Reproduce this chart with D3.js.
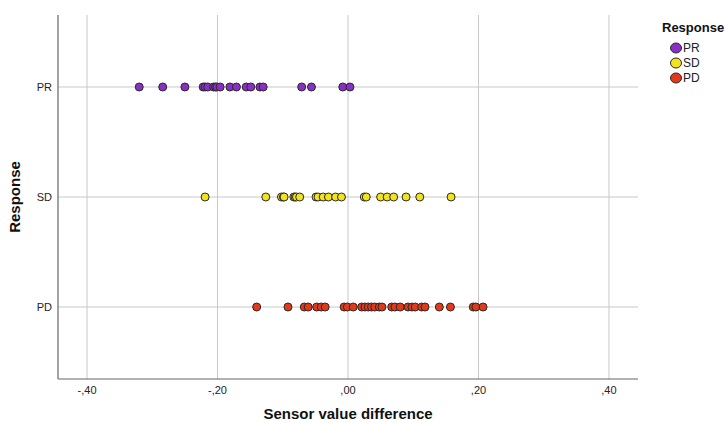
<!DOCTYPE html>
<html>
<head>
<meta charset="utf-8">
<script src="https://cdn.jsdelivr.net/npm/d3@7"></script>
<style>
  body { margin: 0; background: #fff; }
  text { font-family: Arial, 'Liberation Sans', sans-serif; }
</style>
</head>
<body>
<div id="chart"></div>
<script>
const categories = ['PR', 'SD', 'PD']
const colors = { PR: '#8a2fc6', SD: '#f3e31b', PD: '#e2391a' }
const xTicks = [-0.4, -0.2, 0, 0.2, 0.4]
const xTickLabels = ['-,40', '-,20', ',00', ',20', ',40']

const prValues = [-0.320, -0.284, -0.250, -0.222, -0.219, -0.215, -0.206, -0.203, -0.201, -0.196,
  -0.181, -0.171, -0.156, -0.149, -0.135, -0.130, -0.071, -0.056, -0.008, 0.003]
const sdValues = [-0.219, -0.126, -0.102, -0.099, -0.098, -0.083, -0.081, -0.079, -0.074,
  -0.049, -0.046, -0.038, -0.030, -0.019, -0.010, 0.025, 0.028, 0.050, 0.060, 0.070,
  0.089, 0.110, 0.158]
const pdValues = [-0.140, -0.092, -0.067, -0.061, -0.048, -0.041, -0.035, -0.006, -0.001,
  0.008, 0.021, 0.026, 0.031, 0.036, 0.041, 0.048, 0.052, 0.067, 0.072, 0.080, 0.092,
  0.098, 0.103, 0.113, 0.118, 0.140, 0.157, 0.192, 0.196, 0.207]

const points = []
prValues.forEach(v => points.push({ cat: 'PR', v }))
sdValues.forEach(v => points.push({ cat: 'SD', v }))
pdValues.forEach(v => points.push({ cat: 'PD', v }))

const width = 727
const height = 423
const plot = { left: 58, right: 638, top: 15, bottom: 379 }

const svg = d3.select('#chart')
  .append('svg')
  .attr('width', width)
  .attr('height', height)

const x = d3.scaleLinear()
  .domain([-0.4445, 0.4445])
  .range([plot.left, plot.right])

const y = d3.scalePoint()
  .domain(categories)
  .range([plot.top, plot.bottom])
  .padding(0.6545)

// grid
svg.selectAll('.vgrid')
  .data(xTicks)
  .enter()
  .append('line')
  .attr('x1', d => x(d))
  .attr('x2', d => x(d))
  .attr('y1', plot.top)
  .attr('y2', plot.bottom)
  .attr('stroke', '#c8c8c8')
  .attr('stroke-width', 1)

svg.selectAll('.hgrid')
  .data(categories)
  .enter()
  .append('line')
  .attr('x1', plot.left)
  .attr('x2', plot.right)
  .attr('y1', d => y(d))
  .attr('y2', d => y(d))
  .attr('stroke', '#c8c8c8')
  .attr('stroke-width', 1)

// axes lines
svg.append('line')
  .attr('x1', plot.left).attr('x2', plot.left)
  .attr('y1', plot.top).attr('y2', plot.bottom)
  .attr('stroke', '#666').attr('stroke-width', 1.2)
svg.append('line')
  .attr('x1', plot.left).attr('x2', plot.right)
  .attr('y1', plot.bottom).attr('y2', plot.bottom)
  .attr('stroke', '#666').attr('stroke-width', 1.2)

// tick labels
svg.selectAll('.xlabel')
  .data(xTicks)
  .enter()
  .append('text')
  .attr('x', d => x(d))
  .attr('y', plot.bottom + 15)
  .attr('text-anchor', 'middle')
  .attr('font-size', 11)
  .attr('fill', '#222')
  .text((d, i) => xTickLabels[i])

svg.selectAll('.ylabel')
  .data(categories)
  .enter()
  .append('text')
  .attr('x', plot.left - 6)
  .attr('y', d => y(d))
  .attr('dy', '0.35em')
  .attr('text-anchor', 'end')
  .attr('font-size', 11)
  .attr('fill', '#222')
  .text(d => d)

// axis titles
svg.append('text')
  .attr('x', x(0))
  .attr('y', 419)
  .attr('text-anchor', 'middle')
  .attr('font-size', 15)
  .attr('font-weight', 'bold')
  .attr('fill', '#111')
  .text('Sensor value difference')

svg.append('text')
  .attr('transform', `translate(20, ${y('SD')}) rotate(-90)`)
  .attr('text-anchor', 'middle')
  .attr('font-size', 15)
  .attr('font-weight', 'bold')
  .attr('fill', '#111')
  .text('Response')

// points
svg.selectAll('circle.pt')
  .data(points)
  .enter()
  .append('circle')
  .attr('class', 'pt')
  .attr('cx', d => x(d.v))
  .attr('cy', d => y(d.cat))
  .attr('r', 4)
  .attr('fill', d => colors[d.cat])
  .attr('stroke', '#2a2a2a')
  .attr('stroke-width', 1)

// legend
const legend = svg.append('g').attr('transform', 'translate(662, 0)')
legend.append('text')
  .attr('x', 0)
  .attr('y', 32)
  .attr('font-size', 13)
  .attr('font-weight', 'bold')
  .attr('fill', '#111')
  .text('Response')

const items = legend.selectAll('g.item')
  .data(categories)
  .enter()
  .append('g')
  .attr('transform', (d, i) => `translate(7, ${48 + i * 15})`)

items.append('ellipse')
  .attr('cx', 7)
  .attr('cy', 0)
  .attr('rx', 5.5)
  .attr('ry', 5)
  .attr('fill', d => colors[d])
  .attr('stroke', '#2a2a2a')
  .attr('stroke-width', 1)

items.append('text')
  .attr('x', 14)
  .attr('y', 0)
  .attr('dy', '0.35em')
  .attr('font-size', 12)
  .attr('fill', '#222')
  .text(d => d)
</script>
</body>
</html>
